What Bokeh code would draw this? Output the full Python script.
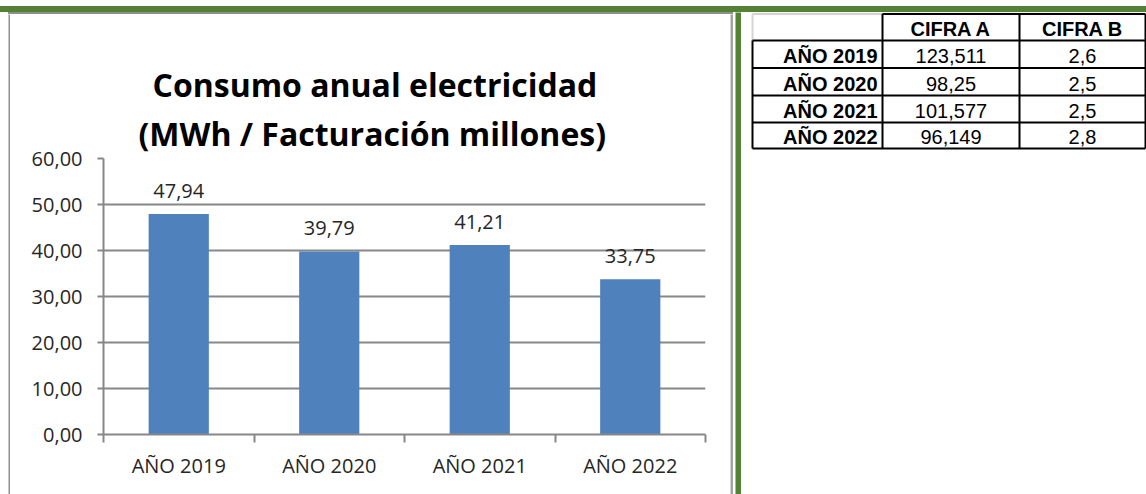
from bokeh.plotting import figure
from bokeh.models import (ColumnDataSource, Range1d, FixedTicker, LabelSet, Title, Plot, Div,
                          LinearAxis)
from bokeh.layouts import row, column
from bokeh.embed import file_html
from bokeh.resources import INLINE
from bokeh.core.properties import value

# ---------------- data ----------------
years = ["AÑO 2019", "AÑO 2020", "AÑO 2021", "AÑO 2022"]
consumo = [47.94, 39.79, 41.21, 33.75]
cifra_a = ["123,511", "98,25", "101,577", "96,149"]
cifra_b = ["2,6", "2,5", "2,5", "2,8"]
table_headers = ["CIFRA A", "CIFRA B"]
y_ticks = [0, 10, 20, 30, 40, 50, 60]
title_lines = ["Consumo anual electricidad", "(MWh / Facturación millones)"]


def fmt(v):
    return f"{v:.2f}".replace(".", ",")


# ---------------- layout constants ----------------
H = 494
GREEN = "#548235"
GRAY = "#878787"
BORDER = "#8f8f8f"
TXT = "#262626"
FONT = "Open Sans"
N = len(years)
Y_MAX = 60
FA = {"frame_align": False} if "frame_align" in Plot.properties() else {}


def block(w, h, color):
    b = figure(width=w, height=h, output_backend="svg", toolbar_location=None, min_border=0,
               title=None, x_axis_location=None, y_axis_location=None, **FA)
    b.outline_line_color = None
    b.grid.visible = False
    b.background_fill_color = color
    b.border_fill_color = color
    return b


def band(w, h, color):
    return Div(text="", width=w, height=h, margin=0, styles={"background-color": color})


# ---------------- chart ----------------
CW, CH = 720, 480
centers = [i + 0.5 for i in range(N)]
src = ColumnDataSource(dict(x=centers, years=years, consumo=consumo,
                            labels=[fmt(v) for v in consumo]))

p = figure(width=CW, height=CH, x_range=Range1d(0, N), y_range=Range1d(0, Y_MAX),
           output_backend="svg", toolbar_location=None,
           min_border_left=93, min_border_right=25, min_border_top=144, min_border_bottom=60,
           **FA)
p.outline_line_color = None
p.background_fill_color = "white"
p.border_fill_color = "white"
p.xgrid.visible = False
p.ygrid.ticker = FixedTicker(ticks=y_ticks)
p.ygrid.grid_line_color = GRAY
p.ygrid.grid_line_width = 2

p.vbar(x="x", top="consumo", width=0.4, source=src, fill_color="#4F81BD", line_color=None)

ya = p.yaxis[0]
ya.ticker = FixedTicker(ticks=y_ticks)
ya.major_label_overrides = {v: fmt(v) for v in y_ticks}
ya.axis_line_color = GRAY
ya.axis_line_width = 2
ya.major_tick_line_color = GRAY
ya.major_tick_line_width = 2
ya.major_tick_out = 6
ya.major_tick_in = 0
ya.minor_tick_line_color = None
ya.major_label_standoff = 15
ya.major_label_text_font = FONT
ya.major_label_text_font_size = "20px"
ya.major_label_text_color = TXT

xa = p.xaxis[0]
xa.ticker = FixedTicker(ticks=centers, minor_ticks=list(range(N + 1)))
xa.major_label_overrides = {c: y for c, y in zip(centers, years)}
xa.axis_line_color = GRAY
xa.axis_line_width = 2
xa.major_tick_line_color = None
xa.major_tick_out = 0
xa.major_tick_in = 0
xa.minor_tick_line_color = GRAY
xa.minor_tick_line_width = 2
xa.minor_tick_out = 8
xa.minor_tick_in = 0
xa.major_label_standoff = 9
xa.major_label_text_font = FONT
xa.major_label_text_font_size = "20px"
xa.major_label_text_color = TXT

labels = LabelSet(x="x", y="consumo", text="labels", source=src, y_offset=23,
                  text_align="center", text_baseline="middle",
                  text_font=value(FONT), text_font_size="20px", text_color=TXT)
p.add_layout(labels)

# invisible spacer between frame and title (nearest the frame)
spacer = LinearAxis(ticker=FixedTicker(ticks=[]), axis_line_color=None,
                    major_tick_line_color=None, minor_tick_line_color=None,
                    major_tick_out=32, major_tick_in=0, minor_tick_out=0, minor_tick_in=0,
                    major_label_standoff=0)
p.add_layout(spacer, "above")

# two-line title: figure title is the outer line, the added Title sits nearer the frame
p.add_layout(Title(text=title_lines[1], align="left", offset=35, standoff=8,
                   text_font=FONT, text_font_style="bold", text_font_size="32px",
                   text_color="black"), "above")
p.title.text = title_lines[0]
p.title.align = "left"
p.title.offset = 49
p.title.standoff = 0
p.title.text_font = FONT
p.title.text_font_style = "bold"
p.title.text_font_size = "32px"
p.title.text_color = "black"

# ---------------- table ----------------
TX0, TY0 = 741, 12
t = figure(width=1146 - TX0, height=H - TY0, x_range=Range1d(TX0, 1146), y_range=Range1d(H, TY0),
           output_backend="svg", toolbar_location=None, title=None, x_axis_location=None,
           y_axis_location=None, min_border=0, **FA)
t.outline_line_color = None
t.grid.visible = False
t.background_fill_color = "white"
t.border_fill_color = "white"

X = [752, 882, 1019, 1145]
Y = [13.5, 40, 67.5, 95, 122, 148]

# light gridlines of the empty corner cell
t.segment(x0=[X[0], X[0]], y0=[Y[0], Y[0]], x1=[X[1], X[0]], y1=[Y[0], Y[1]],
          line_color="#d4d4d4", line_width=2)

# black cell borders
hx0 = [X[0]] * (len(Y) - 1) + [X[1]]
hx1 = [X[-1]] * len(Y)
hy = Y[1:] + [Y[0]]
vx = [X[0], X[1], X[2], X[3]]
vy0 = [Y[1], Y[0], Y[0], Y[0]]
vy1 = [Y[-1]] * 4
t.segment(x0=hx0 + vx, y0=hy + vy0, x1=hx1 + vx, y1=hy + vy1, line_color="black", line_width=2)

hsrc = ColumnDataSource(dict(x=[(X[1] + X[2]) / 2, (X[2] + X[3]) / 2],
                             y=[Y[1] - 12] * 2, text=table_headers))
t.text(x="x", y="y", text="text", source=hsrc, text_align="center", text_baseline="middle",
       text_font=value("Liberation Sans"), text_font_style="bold", text_font_size="20px",
       text_color="black")

row_y = [Y[i + 2] - 12 for i in range(N)]
rsrc = ColumnDataSource(dict(x=[X[1] - 5] * N, y=row_y, text=years))
t.text(x="x", y="y", text="text", source=rsrc, text_align="right", text_baseline="middle",
       text_font=value("Liberation Sans"), text_font_style="bold", text_font_size="20px",
       text_color="black")

vsrc = ColumnDataSource(dict(x=[(X[1] + X[2]) / 2] * N + [(X[2] + X[3]) / 2] * N,
                             y=row_y + row_y, text=cifra_a + cifra_b))
t.text(x="x", y="y", text="text", source=vsrc, text_align="center", text_baseline="middle",
       text_font=value("Liberation Sans"), text_font_size="20px", text_color="black")

# ---------------- page layout (bands and borders) ----------------
chart_box = column(
    band(725, 2, BORDER),
    row(block(2, CH, BORDER), p, block(3, CH, "#a3a3a3"), spacing=0),
    spacing=0,
)
layout = column(
    band(1146, 6, "white"),
    band(1146, 6, GREEN),
    row(block(8, H - 12, "white"), chart_box, block(2, H - 12, "white"),
        block(6, H - 12, GREEN), t, spacing=0),
    spacing=0,
)
open("out.html", "w").write(file_html(layout, INLINE))
